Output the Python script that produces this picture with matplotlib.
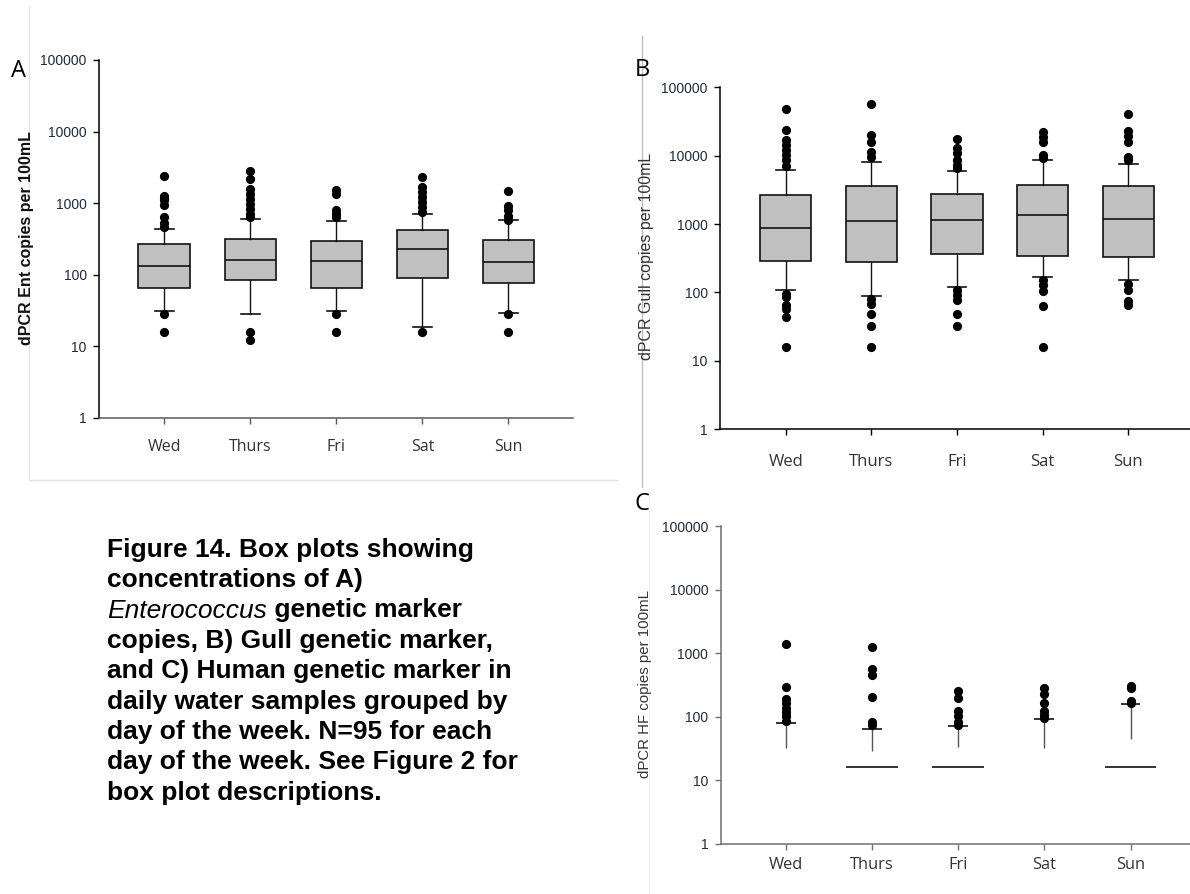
import matplotlib
matplotlib.use("Agg")
import matplotlib.pyplot as plt
from matplotlib.lines import Line2D
from matplotlib.ticker import NullLocator, FixedLocator, FixedFormatter

# ---------------- data ----------------
days = ["Wed", "Thurs", "Fri", "Sat", "Sun"]
y_ticks = [1, 10, 100, 1000, 10000, 100000]
y_tick_labels = ["1", "10", "100", "1000", "10000", "100000"]

# A) Enterococcus marker
ent_q1 = [64, 83, 65, 89, 76]
ent_med = [134, 160, 157, 225, 152]
ent_q3 = [271, 315, 295, 416, 305]
ent_lo = [31, 28, 31, 18.6, 29]
ent_hi = [429, 604, 555, 710, 585]
ent_out = [
    [2380, 1240, 1160, 1090, 930, 640, 530, 465, 28.6, 16],
    [2800, 2190, 1590, 1350, 1150, 980, 830, 710, 640, 16, 12],
    [1500, 1320, 810, 710, 640, 28, 16],
    [2310, 1670, 1420, 1210, 1030, 880, 750, 16],
    [1470, 910, 790, 670, 575, 28.6, 16],
]

# B) Gull marker
gull_q1 = [284, 278, 368, 344, 333]
gull_med = [864, 1094, 1132, 1370, 1197]
gull_q3 = [2686, 3597, 2780, 3680, 3558]
gull_lo = [108, 89, 122, 169, 153]
gull_hi = [6237, 7985, 6030, 8650, 7470]
gull_out = [
    [47600, 23800, 16960, 14320, 12100, 10230, 8650, 7060, 96.6, 86.4, 65, 58, 44, 16],
    [57700, 20060, 16030, 11450, 9670, 81.7, 69, 48.2, 32.2, 16],
    [17340, 12800, 10820, 8650, 7300, 6530, 108, 91, 77, 48, 32],
    [22450, 18970, 16030, 10230, 9140, 151, 128, 105, 63.8, 16],
    [40700, 22960, 19400, 16030, 9670, 8650, 132, 108, 75.5, 66.7],
]

# C) Human (HF) marker: collapsed boxes (q1 = median = q3)
hf_box = [None, 16, 16, None, 16]
hf_lo = [31.7, 28.4, 32.8, 31.7, 43.9]
hf_hi = [79.3, 64.6, 72, 91.6, 158]
hf_out = [
    [1405, 292, 189, 164, 136, 117, 101, 87],
    [1262, 568, 457, 206, 82, 74.6],
    [250, 196, 121, 101, 84, 75],
    [279, 230, 164, 124, 107, 95],
    [307, 282, 180, 164],
]

caption_lines = [
    "Figure 14. Box plots showing",
    "concentrations of A)",
    None,
    "copies, B) Gull genetic marker,",
    "and C) Human genetic marker in",
    "daily water samples grouped by",
    "day of the week. N=95 for each",
    "day of the week. See Figure 2 for",
    "box plot descriptions.",
]

# ---------------- figure ----------------
W, H = 1190, 894
fig = plt.figure(figsize=(W / 100, H / 100), dpi=100)

SANS = "Liberation Sans"
UI = "Open Sans"


def fx(x):
    return x / W


def fy(y):
    return 1 - y / H


def add_ax(left, top, right, bottom):
    return fig.add_axes([fx(left), fy(bottom), (right - left) / W, (bottom - top) / H])


def style_axis(ax, xlim, spine_left, spine_bottom, xlab_size, xlab_pad):
    ax.set_yscale("log")
    ax.set_ylim(1, 100000)
    ax.set_xlim(*xlim)
    ax.yaxis.set_major_locator(FixedLocator(y_ticks))
    ax.yaxis.set_major_formatter(FixedFormatter(y_tick_labels))
    ax.yaxis.set_minor_locator(NullLocator())
    ax.set_xticks(range(1, len(days) + 1))
    ax.set_xticklabels(days, fontfamily=UI, fontsize=xlab_size, color="#333333")
    for lab in ax.get_yticklabels():
        lab.set_fontfamily(SANS)
        lab.set_fontsize(10)
        lab.set_color("#1f2a3a")
    ax.spines["top"].set_visible(False)
    ax.spines["right"].set_visible(False)
    ax.spines["left"].set_color(spine_left)
    ax.spines["bottom"].set_color(spine_bottom)
    ax.spines["left"].set_linewidth(1.1)
    ax.spines["bottom"].set_linewidth(1.1)
    ax.tick_params(axis="y", direction="out", length=4, width=1, pad=5, color=spine_left)
    ax.tick_params(axis="x", direction="out", length=4, width=1, pad=xlab_pad, color=spine_bottom)
    ax.set_facecolor("none")


def box_stats(q1, med, q3, lo, hi, out):
    return [dict(q1=a, med=b, q3=c, whislo=d, whishi=e, fliers=f)
            for a, b, c, d, e, f in zip(q1, med, q3, lo, hi, out)]


box_kw = dict(
    positions=range(1, len(days) + 1),
    widths=0.6,
    capwidths=0.22,
    patch_artist=True,
    boxprops=dict(facecolor="#c0c0c0", edgecolor="#111111", linewidth=1.2),
    medianprops=dict(color="#111111", linewidth=1.2),
    whiskerprops=dict(color="#111111", linewidth=1.0),
    capprops=dict(color="#111111", linewidth=1.2),
    flierprops=dict(marker="o", markerfacecolor="black", markeredgecolor="black",
                    markersize=5.6, linestyle="none"),
)

# faint frame lines around the panels
fig.add_artist(Line2D([fx(29), fx(29)], [fy(6), fy(480)], color="#e4e4e4", lw=1))
fig.add_artist(Line2D([fx(29), fx(617)], [fy(480), fy(480)], color="#e4e4e4", lw=1))
fig.add_artist(Line2D([fx(641.7), fx(641.7)], [fy(36), fy(487)], color="#bdbdbd", lw=1))
fig.add_artist(Line2D([fx(649), fx(649)], [fy(492), fy(894)], color="#f2f2f2", lw=1))

# ---- Panel A ----
axA = add_ax(99.3, 60, 573, 417.7)
axA.bxp(box_stats(ent_q1, ent_med, ent_q3, ent_lo, ent_hi, ent_out), **box_kw)
style_axis(axA, (0.245, 5.75), "#000000", "#5a5a5a", 11.5, 11)
fig.text(fx(26.8), fy(238), "dPCR Ent copies per 100mL", rotation=90, ha="center",
         va="center", fontfamily=SANS, fontweight="bold", fontsize=11.5, color="#111111")
fig.text(fx(18.5), fy(71), "A", ha="center", va="center", fontfamily=UI, fontsize=17)

# ---- Panel B ----
axB = add_ax(720.3, 87.3, 1190, 429.3)
axB.bxp(box_stats(gull_q1, gull_med, gull_q3, gull_lo, gull_hi, gull_out), **box_kw)
style_axis(axB, (0.235, 5.72), "#000000", "#000000", 12, 14)
fig.text(fx(646.2), fy(256.7), "dPCR Gull copies per 100mL", rotation=90, ha="center",
         va="center", fontfamily=SANS, fontsize=11.5, color="#333333")
fig.text(fx(642), fy(70), "B", ha="center", va="center", fontfamily=UI, fontsize=17)

# ---- Panel C ----
axC = add_ax(720.7, 526.3, 1190, 843.7)
for i in range(len(days)):
    pos = i + 1
    axC.vlines(pos, hf_lo[i], hf_hi[i], color="#555555", lw=1.0)
    axC.hlines(hf_hi[i], pos - 0.115, pos + 0.115, color="#111111", lw=1.2)
    if hf_box[i] is not None:
        axC.hlines(hf_box[i], pos - 0.3, pos + 0.3, color="#111111", lw=1.2)
    axC.plot([pos] * len(hf_out[i]), hf_out[i], "o", color="black", markersize=5.6)
style_axis(axC, (0.246, 5.69), "#707070", "#707070", 11.8, 5.5)
fig.text(fx(645.4), fy(684), "dPCR HF copies per 100mL", rotation=90, ha="center",
         va="center", fontfamily=SANS, fontsize=10.8, color="#333333")
fig.text(fx(641.7), fy(504), "C", ha="center", va="center", fontfamily=UI, fontsize=17)

# ---------------- caption ----------------
cap_x = 106.7
base0 = 556.7
step = 30.4
cap_size = 19
for k, line in enumerate(caption_lines):
    yb = fy(base0 + k * step)
    if line is None:
        t = fig.text(fx(cap_x), yb, "Enterococcus", fontfamily=SANS, fontstyle="italic",
                     fontsize=cap_size, va="baseline", ha="left")
        fig.canvas.draw()
        x1 = t.get_window_extent().x1
        fig.text(x1 / W, yb, " genetic marker", fontfamily=SANS, fontweight="bold",
                 fontsize=cap_size, va="baseline", ha="left")
    else:
        fig.text(fx(cap_x), yb, line, fontfamily=SANS, fontweight="bold",
                 fontsize=cap_size, va="baseline", ha="left")

fig.savefig("out.png", dpi=100, facecolor="white")
